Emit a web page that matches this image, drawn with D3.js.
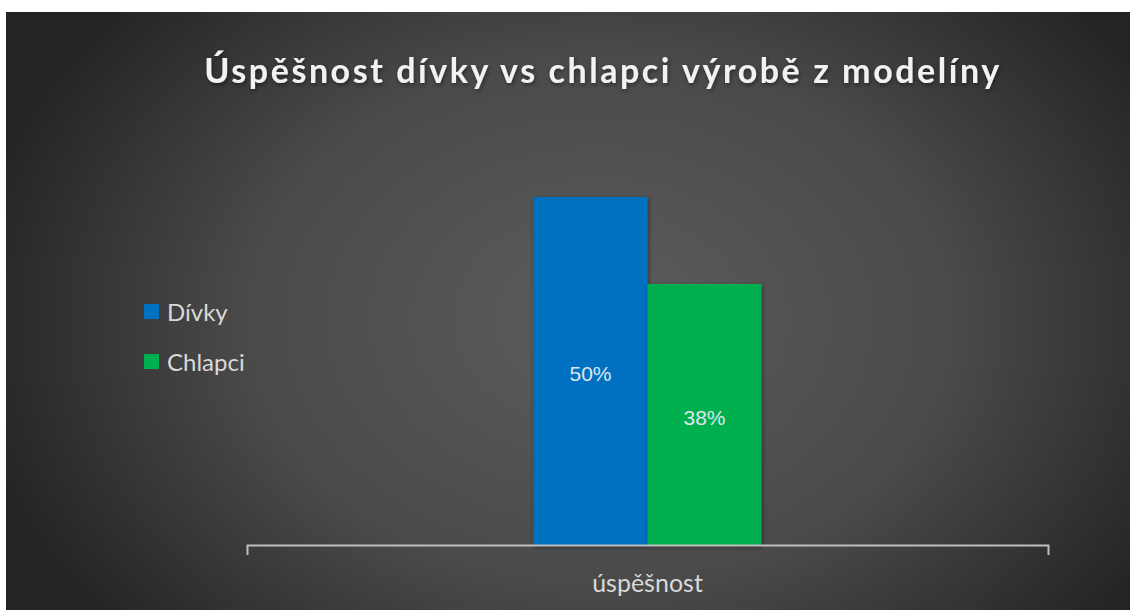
<!DOCTYPE html>
<html>
<head>
<meta charset="utf-8">
<script src="https://cdn.jsdelivr.net/npm/d3@7"></script>
<style>
  body { margin: 0; background: #fff; }
  svg { display: block; }
</style>
</head>
<body>
<div id="chart"></div>
<script>
(function() {
    var width = 1130,
        height = 610;

    // data
    var categories = ["úspěšnost"];
    var seriesNames = ["Dívky", "Chlapci"];
    var seriesColors = ["#0070c0", "#00b050"];
    var divkyValues = [0.5];
    var chlapciValues = [0.375];
    var title = "Úspěšnost dívky vs chlapci výrobě z modelíny";

    var series = [
        { name: seriesNames[0], color: seriesColors[0], values: divkyValues },
        { name: seriesNames[1], color: seriesColors[1], values: chlapciValues }
    ];

    var svg = d3.select("#chart")
        .append("svg")
        .attr("width", width)
        .attr("height", height);

    var defs = svg.append("defs");
    var grad = defs.append("radialGradient")
        .attr("id", "bg")
        .attr("gradientUnits", "userSpaceOnUse")
        .attr("cx", 600).attr("cy", 320)
        .attr("r", 640)
        .attr("gradientTransform", "translate(600,320) scale(1,0.75) translate(-600,-320)");
    grad.append("stop").attr("offset", "0%").attr("stop-color", "#5c5c5c");
    grad.append("stop").attr("offset", "55%").attr("stop-color", "#4a4a4a");
    grad.append("stop").attr("offset", "100%").attr("stop-color", "#242424");

    var shadow = defs.append("filter").attr("id", "shadow")
        .attr("x", "-20%").attr("y", "-20%").attr("width", "140%").attr("height", "140%");
    shadow.append("feDropShadow")
        .attr("dx", 1).attr("dy", 2).attr("stdDeviation", 2)
        .attr("flood-color", "#000").attr("flood-opacity", 0.45);

    svg.append("rect")
        .attr("x", 6).attr("y", 12)
        .attr("width", width - 6).attr("height", height - 12)
        .attr("fill", "url(#bg)");

    // title
    svg.append("text")
        .attr("x", 603)
        .attr("y", 83)
        .attr("text-anchor", "middle")
        .attr("font-family", "Lato, 'Open Sans', sans-serif")
        .attr("font-weight", "bold")
        .attr("font-size", 34)
        .attr("letter-spacing", 2.55)
        .attr("fill", "#f2f2f2")
        .attr("filter", "url(#shadow)")
        .text(title);

    var x0 = d3.scaleBand()
        .domain(categories)
        .range([247, 1048]);

    var x1 = d3.scaleBand()
        .domain(seriesNames)
        .range([x0.bandwidth() / 2 - 114, x0.bandwidth() / 2 + 114]);

    var y = d3.scaleLinear()
        .domain([0, 0.6])
        .range([545, 545 - 348 * 1.2]);

    var fmt = d3.format(".0%");

    var groups = svg.selectAll(".cat")
        .data(categories)
        .enter().append("g")
        .attr("class", "cat")
        .attr("transform", function(d) { return "translate(" + x0(d) + ",0)"; });

    series.forEach(function(s) {
        groups.append("rect")
            .attr("x", x1(s.name))
            .attr("y", function(d, i) { return y(s.values[i]); })
            .attr("width", x1.bandwidth())
            .attr("height", function(d, i) { return y(0) - y(s.values[i]); })
            .attr("fill", s.color)
            .attr("filter", "url(#shadow)");

        groups.append("text")
            .attr("x", x1(s.name) + x1.bandwidth() / 2)
            .attr("y", function(d, i) { return (y(s.values[i]) + y(0)) / 2 + 10; })
            .attr("text-anchor", "middle")
            .attr("font-family", "'Liberation Sans', Arial, sans-serif")
            .attr("font-size", 21)
            .attr("fill", "#dde6ee")
            .text(function(d, i) { return fmt(s.values[i]); });
    });

    // axis
    var axis = d3.axisBottom(x0).tickSize(0).tickSizeOuter(10);
    var ax = svg.append("g")
        .attr("transform", "translate(0," + y(0) + ")")
        .call(axis);
    ax.select(".domain")
        .attr("stroke", "#bfbfbf")
        .attr("stroke-width", 2)
        .attr("fill", "none");
    ax.selectAll(".tick line").remove();
    ax.selectAll(".tick text")
        .attr("dy", 0)
        .attr("y", 47)
        .attr("font-family", "Lato, 'Open Sans', sans-serif")
        .attr("font-size", 25)
        .attr("fill", "#d9d9d9");

    // legend
    var legend = svg.selectAll(".legend")
        .data(series)
        .enter().append("g")
        .attr("class", "legend")
        .attr("transform", function(d, i) { return "translate(144," + (304 + i * 50) + ")"; });

    legend.append("rect")
        .attr("width", 15)
        .attr("height", 15)
        .attr("fill", function(d) { return d.color; });

    legend.append("text")
        .attr("x", 23)
        .attr("y", 17)
        .attr("font-family", "Lato, 'Open Sans', sans-serif")
        .attr("font-size", 24)
        .attr("fill", "#d9d9d9")
        .text(function(d) { return d.name; });
})();
</script>
</body>
</html>
